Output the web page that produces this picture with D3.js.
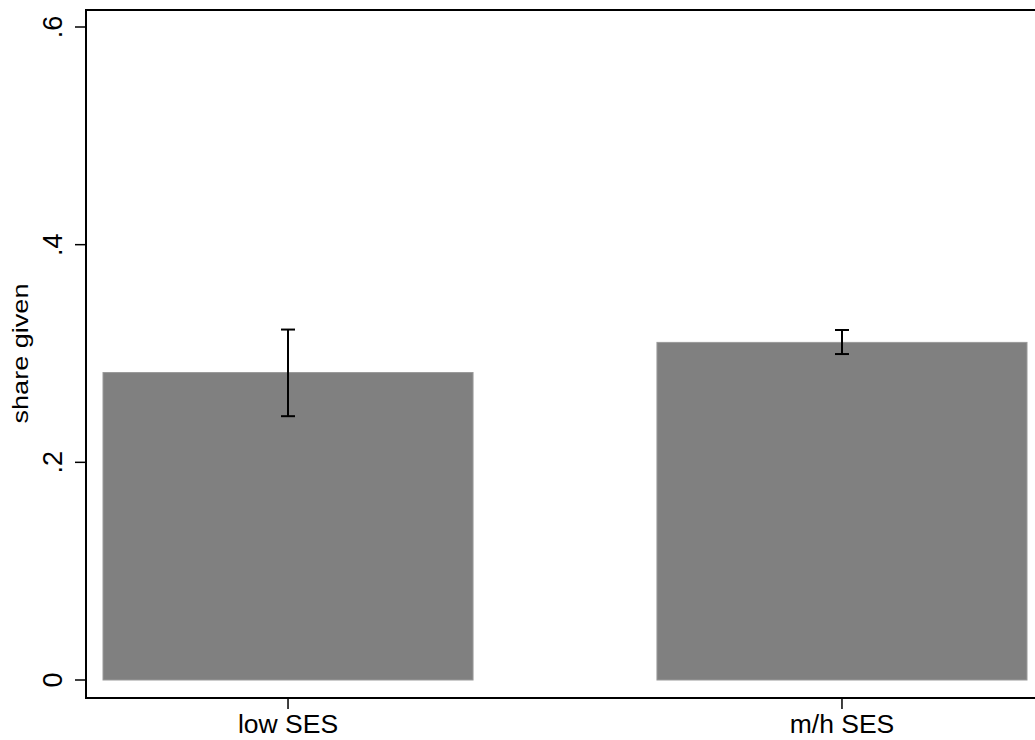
<!DOCTYPE html>
<html>
<head>
<meta charset="utf-8">
<script src="https://cdn.jsdelivr.net/npm/d3@7"></script>
<style>
  body { margin: 0; background: #fff; }
  text { font-family: "Liberation Sans", Arial, sans-serif; fill: #000; }
</style>
</head>
<body>
<svg id="chart" width="1035" height="740"></svg>
<script>
const groups = ['low SES', 'm/h SES'];
const shareGiven = [0.2825, 0.3102];
const ciLow = [0.2424, 0.2995];
const ciHigh = [0.3220, 0.3216];
const yTicks = [0, 0.2, 0.4, 0.6];
const yTickLabels = ['0', '.2', '.4', '.6'];

const svg = d3.select('#chart');

const frame = {left: 86, right: 1035, top: 10, bottom: 698};

const x = d3.scaleBand().domain(groups).range([103, 1027]).paddingInner(0.332).paddingOuter(0);
const y = d3.scaleLinear().domain([0, 0.6]).range([680, 27]);

// bars
svg.selectAll('rect.bar').data(groups).enter().append('rect')
    .attr('class', 'bar')
    .attr('x', (g) => x(g))
    .attr('width', x.bandwidth())
    .attr('y', (g, i) => y(shareGiven[i]))
    .attr('height', (g, i) => y(0) - y(shareGiven[i]))
    .attr('fill', '#808080')
    .attr('stroke', '#9a9a9a')
    .attr('stroke-width', 1);

// error bars
const err = svg.append('g').attr('stroke', '#000').attr('stroke-width', 2);
groups.forEach((g, i) => {
    let cx = x(g) + x.bandwidth() / 2;
    err.append('line').attr('x1', cx).attr('x2', cx).attr('y1', y(ciLow[i])).attr('y2', y(ciHigh[i]));
    err.append('line').attr('x1', cx - 7).attr('x2', cx + 7).attr('y1', y(ciLow[i])).attr('y2', y(ciLow[i]));
    err.append('line').attr('x1', cx - 7).attr('x2', cx + 7).attr('y1', y(ciHigh[i])).attr('y2', y(ciHigh[i]));
});

// frame lines: left, top, bottom
const axesG = svg.append('g').attr('stroke', '#000').attr('stroke-width', 2);
axesG.append('line').attr('x1', frame.left).attr('x2', frame.left).attr('y1', frame.top - 1).attr('y2', frame.bottom + 1);
axesG.append('line').attr('x1', frame.left).attr('x2', frame.right).attr('y1', frame.top).attr('y2', frame.top);
axesG.append('line').attr('x1', frame.left).attr('x2', frame.right).attr('y1', frame.bottom).attr('y2', frame.bottom);

// y ticks
const yt = svg.selectAll('g.ytick').data(yTicks).enter().append('g')
    .attr('class', 'ytick')
    .attr('transform', (d) => 'translate(0,' + y(d) + ')');
yt.append('line').attr('x1', frame.left - 11).attr('x2', frame.left).attr('stroke', '#000').attr('stroke-width', 1.5);
yt.append('text')
    .attr('transform', 'translate(62,0) rotate(-90)')
    .attr('text-anchor', 'middle')
    .attr('font-size', 27)
    .text((d, i) => yTickLabels[i]);

// x ticks
const xt = svg.selectAll('g.xtick').data(groups).enter().append('g')
    .attr('class', 'xtick')
    .attr('transform', (g) => 'translate(' + (x(g) + x.bandwidth() / 2) + ',0)');
xt.append('line').attr('y1', frame.bottom).attr('y2', frame.bottom + 11).attr('stroke', '#000').attr('stroke-width', 1.5);
xt.append('text')
    .attr('y', 733)
    .attr('text-anchor', 'middle')
    .attr('font-size', 26.5)
    .text((g) => g);

// y title
svg.append('text')
    .attr('transform', 'translate(28,' + y(0.3) + ') rotate(-90)')
    .attr('text-anchor', 'middle')
    .attr('font-size', 22)
    .attr('textLength', 140)
    .attr('lengthAdjust', 'spacingAndGlyphs')
    .text('share given');
</script>
</body>
</html>
